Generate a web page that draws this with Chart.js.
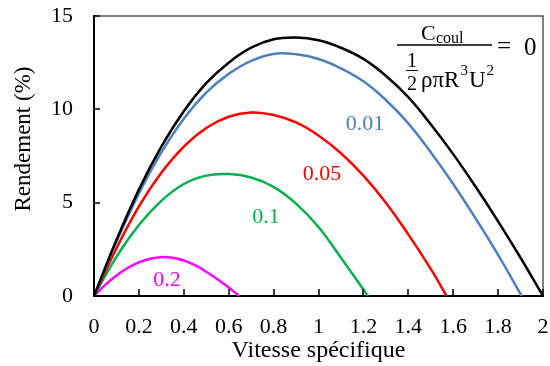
<!DOCTYPE html>
<html>
<head>
<meta charset="utf-8">
<script src="https://cdn.jsdelivr.net/npm/chart.js@4.4.1/dist/chart.umd.min.js"></script>
<style>
  html, body { margin: 0; padding: 0; background: #fff; }
  #wrap { width: 550px; height: 366px; }
</style>
</head>
<body>
<div id="wrap"><canvas id="rendementChart"></canvas></div>
<script>
// tick labels
const xTicks = [0, 0.2, 0.4, 0.6, 0.8, 1, 1.2, 1.4, 1.6, 1.8, 2];
const yTicks = [0, 5, 10, 15];

// Ccoul = 0
const speed0 = [0, 0.1, 0.2, 0.3, 0.4, 0.5, 0.6, 0.7, 0.8, 0.9, 1.0, 1.1, 1.2, 1.3, 1.4, 1.5, 1.6, 1.7, 1.8, 1.9, 2.0];
const rend0  = [0, 3.0, 5.7, 8.0, 9.9, 11.4, 12.5, 13.3, 13.75, 13.85, 13.7, 13.3, 12.7, 11.8, 10.65, 9.2, 7.6, 5.85, 4.0, 2.05, 0];

// Ccoul = 0.01
const speed001 = [0, 0.1, 0.2, 0.3, 0.4, 0.5, 0.6, 0.7, 0.8, 0.9, 1.0, 1.1, 1.2, 1.3, 1.4, 1.5, 1.6, 1.7, 1.8, 1.905];
const rend001  = [0, 2.9, 5.5, 7.7, 9.5, 10.9, 11.9, 12.6, 12.97, 12.95, 12.7, 12.2, 11.5, 10.5, 9.25, 7.7, 6.0, 4.15, 2.2, 0];

// Ccoul = 0.05
const speed005 = [0, 0.1, 0.2, 0.3, 0.4, 0.5, 0.6, 0.7, 0.8, 0.9, 1.0, 1.1, 1.2, 1.3, 1.4, 1.5, 1.571];
const rend005  = [0, 2.55, 4.8, 6.6, 8.0, 9.0, 9.6, 9.83, 9.7, 9.3, 8.6, 7.65, 6.45, 5.0, 3.3, 1.45, 0];

// Ccoul = 0.1
const speed01 = [0, 0.1, 0.2, 0.3, 0.4, 0.5, 0.6, 0.7, 0.8, 0.9, 1.0, 1.1, 1.2, 1.22];
const rend01  = [0, 2.1, 3.8, 5.1, 6.0, 6.45, 6.53, 6.35, 5.85, 4.95, 3.7, 2.05, 0.35, 0];

// Ccoul = 0.2
const speed02 = [0, 0.05, 0.1, 0.15, 0.2, 0.25, 0.3, 0.35, 0.4, 0.45, 0.5, 0.55, 0.6, 0.647];
const rend02  = [0, 0.6, 1.1, 1.5, 1.8, 2.0, 2.08, 2.05, 1.9, 1.65, 1.3, 0.9, 0.45, 0];

const FONT = '"Liberation Serif", "Times New Roman", serif';

function pts(xs, ys) {
    return xs.map((v, i) => ({ x: v, y: ys[i] }));
}

function curve(label, xs, ys, color) {
    return {
        label: label,
        data: pts(xs, ys),
        borderColor: color,
        backgroundColor: color,
        borderWidth: 2.5,
        pointRadius: 0,
        tension: 0.4,
        fill: false
    };
}

// curve labels, in data coordinates
const curveLabels = [
    { text: '0.01', x: 1.207, y: 9.2, color: '#4F81BD' },
    { text: '0.05', x: 1.016, y: 6.5, color: '#FF0000' },
    { text: '0.1', x: 0.766, y: 4.2, color: '#00B050' },
    { text: '0.2', x: 0.325, y: 0.85, color: '#FF00FF' }
];

const overlay = {
    id: 'overlay',
    afterDraw(chart) {
        const ctx = chart.ctx;
        const a = chart.chartArea;
        const xs = chart.scales.x, ys = chart.scales.y;
        ctx.save();

        // top and right frame
        ctx.strokeStyle = '#595959';
        ctx.lineWidth = 1.5;
        ctx.beginPath();
        ctx.moveTo(a.left, a.top);
        ctx.lineTo(a.right, a.top);
        ctx.lineTo(a.right, a.bottom);
        ctx.stroke();

        // inside tick marks
        ctx.strokeStyle = '#000';
        ctx.lineWidth = 1.5;
        ctx.beginPath();
        xTicks.forEach(v => {
            const px = Math.round(xs.getPixelForValue(v));
            ctx.moveTo(px, a.bottom);
            ctx.lineTo(px, a.bottom - 7);
        });
        yTicks.forEach(v => {
            const py = Math.round(ys.getPixelForValue(v));
            ctx.moveTo(a.left, py);
            ctx.lineTo(a.left + 6, py);
        });
        ctx.stroke();

        // y axis title
        ctx.fillStyle = '#000';
        ctx.font = '23px ' + FONT;
        ctx.textAlign = 'center';
        ctx.textBaseline = 'middle';
        ctx.save();
        ctx.translate(24, 139);
        ctx.rotate(-Math.PI / 2);
        ctx.fillText('Rendement (%)', 0, 0);
        ctx.restore();

        // curve labels
        ctx.font = '22px ' + FONT;
        curveLabels.forEach(l => {
            ctx.fillStyle = l.color;
            ctx.fillText(l.text, xs.getPixelForValue(l.x), ys.getPixelForValue(l.y));
        });

        // formula  Ccoul / (1/2 rho pi R^3 U^2) = 0
        ctx.fillStyle = '#000';
        ctx.strokeStyle = '#000';
        ctx.textAlign = 'left';
        ctx.textBaseline = 'alphabetic';
        ctx.font = '22px ' + FONT;
        ctx.fillText('C', 421, 40);
        ctx.font = '16px ' + FONT;
        ctx.fillText('coul', 436, 43);
        ctx.lineWidth = 1.5;
        ctx.beginPath();
        ctx.moveTo(397, 45); ctx.lineTo(492, 45);
        ctx.stroke();
        ctx.font = '25px ' + FONT;
        ctx.fillText('=', 497, 54);
        ctx.fillText('0', 524, 55);
        // small 1/2
        ctx.font = '20px ' + FONT;
        ctx.textAlign = 'center';
        ctx.fillText('1', 412, 67);
        ctx.fillText('2', 412, 90);
        ctx.lineWidth = 1;
        ctx.beginPath();
        ctx.moveTo(406, 70.5); ctx.lineTo(418, 70.5);
        ctx.stroke();
        ctx.textAlign = 'left';
        ctx.font = '23px ' + FONT;
        let cx = 421;
        ctx.fillText('ρπR', cx, 87);
        cx += ctx.measureText('ρπR').width;
        ctx.font = '15px ' + FONT;
        ctx.fillText('3', cx + 1, 75);
        cx += ctx.measureText('3').width + 2;
        ctx.font = '23px ' + FONT;
        ctx.fillText('U', cx, 87);
        cx += ctx.measureText('U').width;
        ctx.font = '15px ' + FONT;
        ctx.fillText('2', cx + 1, 75);

        ctx.restore();
    }
};

document.addEventListener('DOMContentLoaded', function() {
    const canvas = document.getElementById('rendementChart');
    new Chart(canvas, {
        type: 'line',
        data: {
            datasets: [
                curve('0', speed0, rend0, '#000000'),
                curve('0.01', speed001, rend001, '#4F81BD'),
                curve('0.05', speed005, rend005, '#FF0000'),
                curve('0.1', speed01, rend01, '#00B050'),
                curve('0.2', speed02, rend02, '#FF00FF')
            ]
        },
        options: {
            responsive: true,
            maintainAspectRatio: false,
            animation: false,
            layout: { padding: { top: 16, right: 7, left: 0, bottom: 0 } },
            plugins: {
                legend: { display: false },
                tooltip: { enabled: false }
            },
            scales: {
                x: {
                    type: 'linear',
                    min: 0,
                    max: 2,
                    afterBuildTicks: s => { s.ticks = xTicks.map(v => ({ value: v })); },
                    afterFit: s => { s.height = 70; s.paddingLeft = 0; s.paddingRight = 0; },
                    grid: { display: false, drawTicks: false },
                    border: { display: true, color: '#000', width: 2 },
                    ticks: {
                        color: '#000',
                        padding: 18,
                        maxRotation: 0,
                        autoSkip: false,
                        font: { family: FONT, size: 22 },
                        callback: v => String(v)
                    },
                    title: {
                        display: true,
                        text: 'Vitesse spécifique',
                        color: '#000',
                        font: { family: FONT, size: 24 },
                        padding: { top: 0, bottom: 1 }
                    }
                },
                y: {
                    min: 0,
                    max: 15,
                    afterBuildTicks: s => { s.ticks = yTicks.map(v => ({ value: v })); },
                    afterFit: s => { s.width = 94; s.paddingTop = 0; s.paddingBottom = 0; },
                    grid: { display: false, drawTicks: false },
                    border: { display: true, color: '#000', width: 2 },
                    ticks: {
                        color: '#000',
                        padding: 21,
                        font: { family: FONT, size: 22 }
                    }
                }
            }
        },
        plugins: [overlay]
    });
});
</script>
</body>
</html>
